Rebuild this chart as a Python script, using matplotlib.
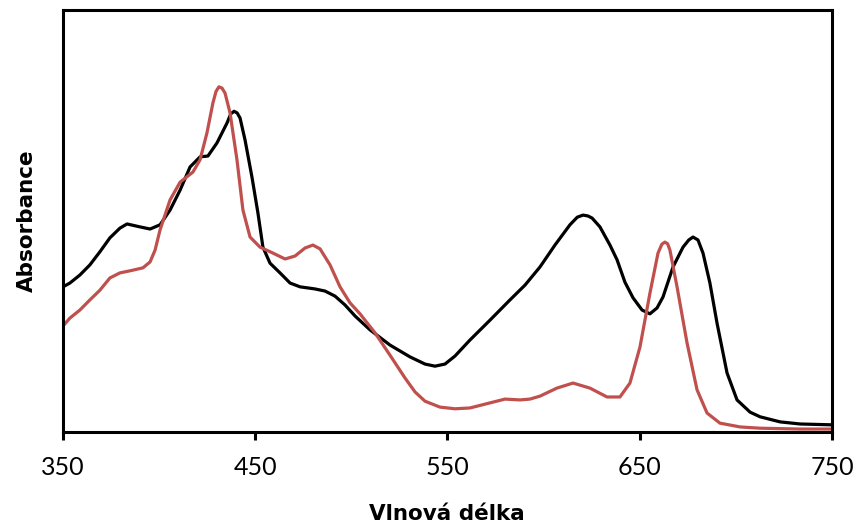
import matplotlib.pyplot as plt
import numpy as np

# Spectra (wavelength in nm, absorbance in arbitrary units)
black_nm = [350.0, 353.6, 358.8, 364.0, 369.2, 374.4, 379.6, 383.3, 390.1, 395.3,
            400.5, 405.7, 410.9, 416.1, 421.3, 425.4, 430.1, 435.3, 437.3, 439.0,
            440.6, 442.1, 444.7, 448.3, 451.4, 454.0, 457.7, 462.9, 468.1, 473.3,
            481.1, 486.3, 491.5, 496.7, 501.9, 509.7, 520.1, 530.5, 538.3, 543.5,
            548.7, 553.9, 561.7, 572.1, 582.5, 590.3, 598.1, 605.9, 613.7, 617.5,
            620.5, 623.0, 625.2, 629.3, 634.5, 638.2, 642.3, 646.5, 651.2, 655.3,
            659.0, 662.1, 667.3, 672.5, 675.5, 677.7, 680.3, 682.9, 686.5, 690.2,
            695.4, 700.6, 707.4, 712.6, 723.0, 733.4, 750.0]
black_abs = [0.344, 0.353, 0.372, 0.396, 0.427, 0.460, 0.483, 0.493, 0.486, 0.481,
             0.491, 0.526, 0.573, 0.628, 0.652, 0.654, 0.685, 0.732, 0.754, 0.760,
             0.756, 0.744, 0.692, 0.604, 0.519, 0.438, 0.400, 0.377, 0.353, 0.344,
             0.339, 0.334, 0.322, 0.301, 0.275, 0.242, 0.206, 0.178, 0.161, 0.156,
             0.161, 0.180, 0.218, 0.265, 0.313, 0.348, 0.391, 0.443, 0.491, 0.509,
             0.514, 0.512, 0.507, 0.486, 0.443, 0.408, 0.355, 0.318, 0.289, 0.280,
             0.294, 0.320, 0.391, 0.438, 0.455, 0.462, 0.455, 0.424, 0.353, 0.258,
             0.140, 0.076, 0.047, 0.036, 0.024, 0.019, 0.017]

red_nm = [350.0, 353.6, 358.8, 364.0, 369.2, 374.4, 379.6, 384.9, 391.6, 395.3,
          397.9, 400.5, 405.7, 410.9, 417.6, 421.3, 424.9, 428.0, 429.6, 431.1,
          432.7, 434.3, 436.9, 440.5, 443.6, 447.3, 452.5, 459.2, 465.5, 470.7,
          475.9, 480.0, 483.7, 488.9, 494.1, 499.3, 504.5, 512.3, 520.1, 527.9,
          533.1, 538.3, 546.1, 553.9, 561.7, 572.1, 579.9, 587.7, 592.9, 598.1,
          606.9, 615.3, 624.1, 633.0, 639.7, 644.9, 650.1, 655.3, 659.5, 661.5,
          663.1, 664.5, 665.7, 669.4, 674.6, 679.8, 685.0, 691.7, 702.2, 712.6,
          733.4, 750.0]
red_abs = [0.251, 0.270, 0.289, 0.313, 0.336, 0.365, 0.377, 0.382, 0.389, 0.403,
           0.431, 0.479, 0.550, 0.592, 0.616, 0.645, 0.709, 0.780, 0.807, 0.818,
           0.815, 0.803, 0.756, 0.645, 0.526, 0.462, 0.438, 0.424, 0.410, 0.417,
           0.436, 0.443, 0.434, 0.396, 0.344, 0.306, 0.280, 0.235, 0.182, 0.128,
           0.095, 0.073, 0.059, 0.055, 0.057, 0.069, 0.078, 0.076, 0.078, 0.085,
           0.104, 0.116, 0.104, 0.083, 0.083, 0.116, 0.201, 0.329, 0.424, 0.445,
           0.450, 0.446, 0.431, 0.344, 0.211, 0.100, 0.045, 0.021, 0.012, 0.009,
           0.007, 0.007]

x_ticks = [350, 450, 550, 650, 750]

plt.rcParams['font.family'] = ['Lato', 'DejaVu Sans']

fig = plt.figure(figsize=(8.58, 5.26), dpi=100)
ax = fig.add_axes([0.0734, 0.1787, 0.8963, 0.8023])

ax.plot(black_nm, black_abs, color="black", linewidth=2.3,
        solid_joinstyle="round", solid_capstyle="round")
ax.plot(red_nm, red_abs, color="#C0504D", linewidth=2.3,
        solid_joinstyle="round", solid_capstyle="round")

ax.set_xlim(350, 750)
ax.set_ylim(0, 1)
ax.set_xticks(x_ticks)
ax.set_yticks([])
ax.tick_params(axis="x", direction="out", length=6, width=2.2, labelsize=18, pad=11)
for spine in ax.spines.values():
    spine.set_linewidth(2.2)

# axis titles
ax.set_xlabel("Vlnová délka", fontsize=15.5, fontweight="bold", family="DejaVu Sans")
ax.set_ylabel("Absorbance", fontsize=15.5, fontweight="bold", family="DejaVu Sans")
ax.xaxis.set_label_coords(0.499, -0.170)
ax.yaxis.set_label_coords(-0.034, 0.5)

fig.savefig("out.png", dpi=100)
